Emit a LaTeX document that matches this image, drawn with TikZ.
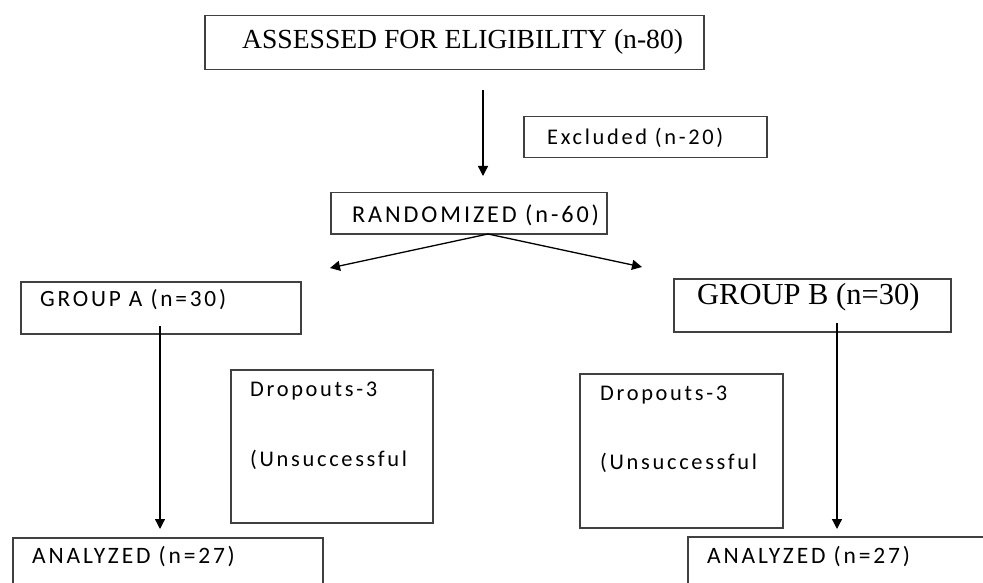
\documentclass[tikz,border=0pt]{standalone}
\usepackage{fontspec}
\setmainfont{Liberation Serif}
\newfontfamily\calib[LetterSpace=12]{Carlito}
\usetikzlibrary{arrows.meta}
\definecolor{boxgray}{HTML}{404040}
\begin{document}
\begin{tikzpicture}[x=1pt,y=-1pt,
  box/.style={draw=boxgray, line width=1.5pt, anchor=north west, inner sep=0pt, rectangle},
  sanslbl/.style={anchor=west, inner sep=0pt, font=\calib\fontsize{#1}{#1}\selectfont},
  sanslbl/.default=22,
  seriflbl/.style={anchor=west, inner sep=0pt, font=\fontsize{#1}{#1}\selectfont},
  conn/.style={draw=black, line width=1.3pt, -{Triangle[width=10pt,length=10pt]}}]
\useasboundingbox (0,0) rectangle (983,583);
% boxes
\node[box, minimum width=499pt, minimum height=54pt] (assess) at (204,15) {};
\node[box, minimum width=243pt, minimum height=41pt] (excl) at (523,116) {};
\node[box, minimum width=276pt, minimum height=41pt] (rand) at (330,192) {};
\node[box, minimum width=280pt, minimum height=52pt] (grpA) at (20,281) {};
\node[box, minimum width=277pt, minimum height=53pt] (grpB) at (673,278) {};
\node[box, minimum width=202pt, minimum height=153pt] (dropA) at (230,369) {};
\node[box, minimum width=203pt, minimum height=154pt] (dropB) at (579,373) {};
\node[box, minimum width=310pt, minimum height=60pt] (anaA) at (12,537) {};
\node[box, minimum width=310pt, minimum height=60pt] (anaB) at (687,536) {};
% texts
\node[seriflbl=27.6] (tAssess) at (242,42) {ASSESSED FOR ELIGIBILITY (n-80)};
\node[sanslbl=22.4] (tExcl) at (547,138) {Excluded (n-20)};
\node[sanslbl=24.2] (tRand) at (352,215) {RANDOMIZED (n-60)};
\node[sanslbl=23.3] (tGrpA) at (40,300) {GROUP A (n=30)};
\node[seriflbl=30.5] (tGrpB) at (697,297) {GROUP B (n=30)};
\node[sanslbl=22.4] (tDropA1) at (250,391) {Dropouts-3};
\node[sanslbl=22.4] (tDropA2) at (250,460) {(Unsuccessful};
\node[sanslbl=22.4] (tDropB1) at (600,395) {Dropouts-3};
\node[sanslbl=22.4] (tDropB2) at (600,463) {(Unsuccessful};
\node[sanslbl=23.5] (tAnaA) at (32,557) {ANALYZED (n=27)};
\node[sanslbl=23.5] (tAnaB) at (707,557) {ANALYZED (n=27)};
% connector ends
\coordinate (c1s) at (483,90);
\coordinate (c1e) at (483,176);
\coordinate (split) at (488,234);
\coordinate (leftE) at (330,268);
\coordinate (rightE) at (642,267);
\coordinate (aS) at (160,326);
\coordinate (aE) at (160,529);
\coordinate (bS) at (837,323);
\coordinate (bE) at (837,529);
\draw[conn] (c1s) -- (c1e);
\draw[conn] (split) -- (leftE);
\draw[conn] (split) -- (rightE);
\draw[conn] (aS) -- (aE);
\draw[conn] (bS) -- (bE);
\end{tikzpicture}
\end{document}
